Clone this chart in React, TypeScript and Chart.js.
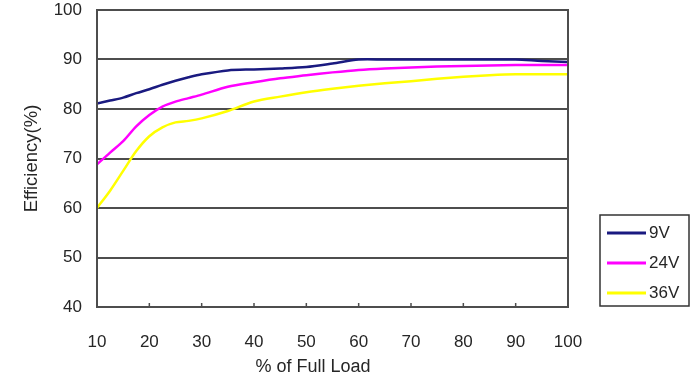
import React, { useEffect, useRef } from 'react';
import { Chart, registerables } from 'chart.js';

Chart.register(...registerables);

const loads = [10, 12.5, 15, 17.5, 20, 22.5, 25, 27.5, 30, 35, 40, 45, 50, 55, 60, 65, 70, 75, 80, 85, 90, 95, 100];
const eff9V = [81.1, 81.7, 82.3, 83.2, 84.0, 84.9, 85.7, 86.4, 87.0, 87.8, 88.0, 88.2, 88.5, 89.2, 90.0, 90.0, 90.0, 90.0, 90.0, 90.0, 90.0, 89.7, 89.5];
const eff24V = [68.8, 71.2, 73.5, 76.5, 78.8, 80.5, 81.5, 82.2, 82.9, 84.5, 85.4, 86.2, 86.8, 87.4, 87.9, 88.2, 88.4, 88.6, 88.7, 88.8, 88.9, 88.9, 88.9];
const eff36V = [60.0, 63.5, 67.5, 71.5, 74.5, 76.3, 77.3, 77.6, 78.1, 79.6, 81.5, 82.5, 83.4, 84.1, 84.7, 85.2, 85.6, 86.1, 86.5, 86.8, 87.0, 87.0, 87.0];

const seriesLabels = ['9V', '24V', '36V'];
const seriesColors = ['#1a1a80', '#ff00ff', '#ffff00'];
const xTitle = '% of Full Load';
const yTitle = 'Efficiency(%)';

const FONT = '"Liberation Sans", Arial, sans-serif';
const TEXT = '#262626';
const LINE = '#4d4d4d';

const decorPlugin = {
  id: 'decor',
  afterDraw(chart: any) {
    const { ctx, chartArea } = chart;
    const xs = chart.scales.x;
    ctx.save();
    ctx.strokeStyle = LINE;
    ctx.lineWidth = 2;
    ctx.strokeRect(chartArea.left, chartArea.top, chartArea.right - chartArea.left, chartArea.bottom - chartArea.top);
    ctx.lineWidth = 1.5;
    xs.ticks.forEach((t: any) => {
      const px = xs.getPixelForValue(t.value);
      ctx.beginPath();
      ctx.moveTo(px, chartArea.bottom);
      ctx.lineTo(px, chartArea.bottom - 4);
      ctx.stroke();
    });
    ctx.fillStyle = TEXT;
    ctx.font = `18px ${FONT}`;
    ctx.textAlign = 'center';
    ctx.textBaseline = 'middle';
    ctx.fillText(xTitle, 313, 367);
    const lx = 600, ly = 215, lw = 89, lh = 91;
    ctx.strokeStyle = '#333';
    ctx.lineWidth = 1.5;
    ctx.strokeRect(lx, ly, lw, lh);
    ctx.font = `17px ${FONT}`;
    const rows = [233, 263, 293];
    chart.data.datasets.forEach((ds: any, i: number) => {
      const y = rows[i];
      ctx.strokeStyle = ds.borderColor;
      ctx.lineWidth = 3;
      ctx.beginPath();
      ctx.moveTo(607, y);
      ctx.lineTo(646, y);
      ctx.stroke();
      ctx.fillStyle = TEXT;
      ctx.textAlign = 'left';
      ctx.fillText(ds.label, 649, y);
    });
    ctx.restore();
  },
};

export default function App() {
  const ref = useRef<HTMLCanvasElement>(null);
  useEffect(() => {
    if (!ref.current) return;
    const series = [eff9V, eff24V, eff36V];
    const chart = new Chart(ref.current, {
      type: 'line',
      data: {
        datasets: series.map((s, i) => ({
          label: seriesLabels[i],
          data: loads.map((x, j) => ({ x, y: s[j] })),
          borderColor: seriesColors[i],
          backgroundColor: seriesColors[i],
          borderWidth: 2.5,
          pointRadius: 0,
          tension: 0.3,
          fill: false,
        })),
      },
      options: {
        animation: false,
        responsive: true,
        maintainAspectRatio: false,
        layout: { padding: { top: 10, right: 130, bottom: 0, left: 0 } },
        plugins: { legend: { display: false }, tooltip: { enabled: false } },
        scales: {
          x: {
            type: 'linear',
            min: 10,
            max: 100,
            afterFit: (s: any) => { s.height = 71; s.paddingLeft = 0; s.paddingRight = 0; },
            grid: { display: false },
            border: { display: false },
            ticks: { stepSize: 10, padding: 17, color: TEXT, font: { family: FONT, size: 17 }, maxRotation: 0 },
          },
          y: {
            min: 40,
            max: 100,
            afterFit: (s: any) => { s.width = 97; s.paddingTop = 0; s.paddingBottom = 0; },
            grid: { color: LINE, lineWidth: 2, drawTicks: false },
            border: { display: false },
            ticks: { stepSize: 10, padding: 15, color: TEXT, font: { family: FONT, size: 17 } },
            title: { display: true, text: yTitle, color: TEXT, font: { family: FONT, size: 18.5 }, padding: { top: 21, bottom: 0 } },
          },
        },
      },
      plugins: [decorPlugin],
    });
    return () => chart.destroy();
  }, []);
  return (
    <div style={{ position: 'fixed', left: 0, top: 0, width: 698, height: 378, background: '#fff' }}>
      <canvas ref={ref} />
    </div>
  );
}
